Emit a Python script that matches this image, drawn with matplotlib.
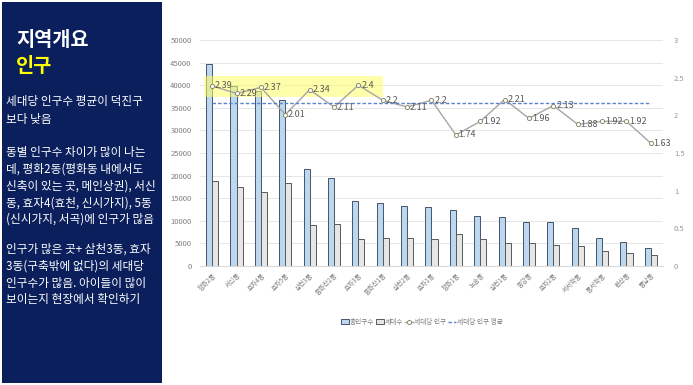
import matplotlib.pyplot as plt
import matplotlib.patches as patches
import numpy as np

plt.rcParams['font.family'] = ['Noto Sans CJK KR', 'DejaVu Sans']

# data
dongs = ['평화2동', '서신동', '효자4동', '효자5동', '삼천3동', '중화산2동', '효자3동',
         '중화산1동', '삼천2동', '효자1동', '평화1동', '노송동', '삼천1동', '중앙동',
         '효자2동', '서서학동', '동서학동', '완산동', '풍남동']
population = [44800, 39900, 38700, 36700, 21400, 19500, 14400, 14000, 13200, 13000,
              12300, 11100, 10900, 9700, 9700, 8300, 6200, 5200, 3900]
households = [18700, 17400, 16300, 18300, 9150, 9200, 6050, 6250, 6250, 5900,
              7100, 5900, 5000, 5000, 4550, 4400, 3250, 2800, 2430]
per_household = [2.39, 2.29, 2.37, 2.01, 2.34, 2.11, 2.4, 2.2, 2.11, 2.2,
                 1.74, 1.92, 2.21, 1.96, 2.13, 1.88, 1.92, 1.92, 1.63]
per_household_avg = [2.17] * len(dongs)

W, H = 693, 385
fig = plt.figure(figsize=(W / 100, H / 100), dpi=100)
fig.patch.set_facecolor('white')

# left navy panel
fig.patches.append(patches.Rectangle((2 / W, 2 / H), 160 / W, 381 / H,
                                     transform=fig.transFigure,
                                     facecolor='#0a1f5c', edgecolor='none'))
fig.text(16 / W, 1 - 41 / H, '지역개요', color='white', fontsize=14.2,
         fontweight='bold', va='center')
fig.text(16 / W, 1 - 67 / H, '인구', color='#ffff00', fontsize=14.2,
         fontweight='bold', va='center')

body = [
    (102, '세대당 인구수 평균이 덕진구'),
    (119, '보다 낮음'),
    (152, '동별 인구수 차이가 많이 나는'),
    (169, '데, 평화2동(평화동 내에서도'),
    (186, '신축이 있는 곳, 메인상권), 서신'),
    (203, '동, 효자4(효천, 신시가지), 5동'),
    (219, '(신시가지, 서곡)에 인구가 많음'),
    (249, '인구가 많은 곳+ 삼천3동, 효자'),
    (266, '3동(구축밖에 없다)의 세대당'),
    (283, '인구수가 많음. 아이들이 많이'),
    (300, '보이는지 현장에서 확인하기'),
]
for y, line in body:
    fig.text(6 / W, 1 - y / H, line, color='white', fontsize=8.4, va='center')

# chart
ax = fig.add_axes([200 / W, 1 - 266 / H, 463 / W, 226 / H])
x = np.arange(len(dongs))
bw = 0.25
ax.bar(x - bw / 2, population, bw, color='#bdd7ee', edgecolor='#44546a',
       linewidth=0.7, label='총인구수', zorder=2)
ax.bar(x + bw / 2, households, bw, color='#e7e6e6', edgecolor='#595959',
       linewidth=0.7, label='세대수', zorder=2)
ax.set_ylim(0, 50000)
ax.set_xlim(-0.5, len(dongs) - 0.5)
ax.set_yticks(np.arange(0, 50001, 5000))
ax.grid(axis='y', color='#e6e6e6', linewidth=0.7, zorder=0)
ax.set_axisbelow(True)
for s in ax.spines.values():
    s.set_visible(False)
ax.spines['bottom'].set_visible(True)
ax.spines['bottom'].set_color('#d9d9d9')
ax.tick_params(axis='y', length=0, labelsize=5.5, labelcolor='#7f7f7f', pad=6)
ax.tick_params(axis='x', length=0, labelsize=4.8, labelcolor='#7f7f7f', pad=4)
ax.set_xticks(x)
ax.set_xticklabels(dongs, rotation=45, ha='right', rotation_mode='anchor')

ax2 = ax.twinx()
ax2.set_ylim(0, 3)
ax2.set_yticks(np.arange(0, 3.01, 0.5))
ax2.set_yticklabels(['0', '0.5', '1', '1.5', '2', '2.5', '3'])
for s in ax2.spines.values():
    s.set_visible(False)
ax2.tick_params(axis='y', length=0, labelsize=5.5, labelcolor='#999999', pad=8)
ax2.plot(x, per_household, color='#a5a5a5', linewidth=1.0, marker='o',
         markersize=3, markerfacecolor='white', markeredgecolor='#8c8c6a',
         markeredgewidth=0.7, label='세대당 인구', zorder=3)
ax2.plot(x, per_household_avg, color='#5b83d0', linewidth=1.0,
         linestyle=(0, (2.5, 1.5)), label='세대당 인구 평균', zorder=3)
for xi, v in zip(x, per_household):
    ax2.annotate(f'{v:g}', (xi, v), xytext=(2, 0), textcoords='offset points',
                 fontsize=6.5, color='#595959', va='center', ha='left')

# highlight box
ax.add_patch(patches.Rectangle((-0.34, 37400), 7.34, 4700, facecolor='#ffff66',
                               edgecolor='none', alpha=0.55, zorder=4))

h1, l1 = ax.get_legend_handles_labels()
h2, l2 = ax2.get_legend_handles_labels()
fig.legend(h1 + h2, l1 + l2, loc='center', bbox_to_anchor=(422 / W, 1 - 322 / H),
           ncol=4, frameon=False, fontsize=4.8, handlelength=1.1,
           handletextpad=0.2, columnspacing=0.3, labelcolor='#7f7f7f')

fig.savefig('out.png', dpi=100)
